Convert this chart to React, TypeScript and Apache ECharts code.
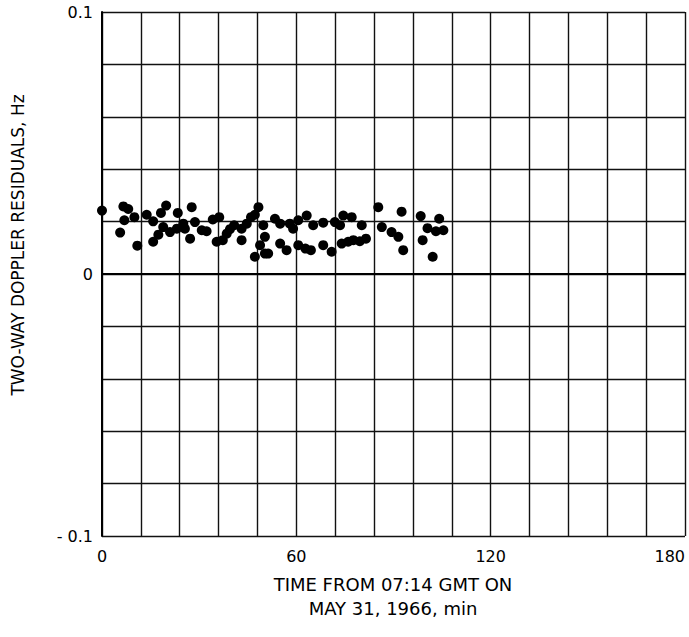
import React, { useEffect, useRef } from "react";
import * as echarts from "echarts";

const timeMin: number[] = [
  0, 5.6, 6.6, 6.9, 8.1, 10, 10.9, 13.8, 15.8, 15.8, 17.4, 18.2, 18.9, 19.8, 21,
  23.4, 23.1, 25.1, 25.6, 27.2, 27.7, 28.7, 30.8, 32.3, 34.2, 35.4, 36.2, 37.3,
  38.5, 39.5, 40.8, 43.1, 43.1, 44.7, 46, 47.2, 47.2, 48.3, 48.8, 49.8, 50.3,
  50.3, 51.3, 53.4, 55, 55, 57, 58, 59, 60.6, 60.6, 62.8, 63.2, 64.5, 65.2,
  68.3, 68.3, 70.9, 71.9, 73.5, 74, 74.5, 76, 77.1, 77.6, 79.6, 80.2, 81.5,
  85.3, 86.4, 89.4, 91.5, 92.5, 93, 98.4, 99, 100.5, 102.1, 103.1, 104.1, 105.4,
];
const residualHz: number[] = [
  0.0242, 0.0158, 0.0258, 0.0205, 0.0248, 0.0217, 0.0108, 0.0226, 0.0201, 0.0123,
  0.015, 0.0233, 0.0179, 0.0261, 0.016, 0.0233, 0.0173, 0.0192, 0.0173, 0.0135,
  0.0255, 0.0198, 0.0167, 0.0163, 0.0208, 0.0123, 0.0217, 0.0129, 0.0154, 0.0171,
  0.0186, 0.0129, 0.0173, 0.0192, 0.0217, 0.0226, 0.0066, 0.0255, 0.011, 0.0186,
  0.0078, 0.0142, 0.0078, 0.0211, 0.0192, 0.0116, 0.0091, 0.0192, 0.0173, 0.0205,
  0.011, 0.0097, 0.0223, 0.0091, 0.0186, 0.0196, 0.011, 0.0085, 0.0198, 0.0186,
  0.0116, 0.0223, 0.0123, 0.0217, 0.0129, 0.0125, 0.0186, 0.0135, 0.0255, 0.0179,
  0.016, 0.0142, 0.0238, 0.0091, 0.0221, 0.0129, 0.0175, 0.0066, 0.0163, 0.0211,
  0.0167,
];
const xTickLabels: number[] = [0, 60, 120, 180];
const yTickLabels: { v: number; t: string }[] = [
  { v: 0.1, t: "0.1" },
  { v: 0, t: "0" },
  { v: -0.1, t: "- 0.1" },
];
const xTitle = "TIME FROM 07:14 GMT ON\nMAY 31, 1966, min";
const yTitle = "TWO-WAY DOPPLER RESIDUALS, Hz";

export default function App() {
  const ref = useRef<HTMLDivElement>(null);
  useEffect(() => {
    if (!ref.current) return;
    const chart = echarts.init(ref.current, null, { renderer: "svg" });
    const font = "'DejaVu Sans', 'Liberation Sans', Arial, sans-serif";
    chart.setOption({
      animation: false,
      backgroundColor: "#ffffff",
      grid: { left: 102, top: 12, width: 583, height: 524, containLabel: false },
      xAxis: {
        type: "value",
        min: 0,
        max: 180,
        interval: 12,
        axisLine: { show: true, lineStyle: { color: "#000", width: 2 } },
        axisTick: { show: false },
        splitLine: { show: true, lineStyle: { color: "#111", width: 1.4 } },
        axisLabel: {
          color: "#000",
          fontFamily: font,
          fontSize: 16,
          margin: 12,
          alignMaxLabel: "right",
          formatter: (v: number) => {
            const r = Math.round(v);
            return xTickLabels.includes(r) ? String(r) : "";
          },
        },
      },
      yAxis: {
        type: "value",
        min: -0.1,
        max: 0.1,
        interval: 0.02,
        axisLine: { show: true, lineStyle: { color: "#000", width: 2 } },
        axisTick: { show: false },
        splitLine: { show: true, lineStyle: { color: "#111", width: 1.4 } },
        axisLabel: {
          color: "#000",
          fontFamily: font,
          fontSize: 16,
          margin: 9,
          formatter: (v: number) => {
            const f = yTickLabels.find((y) => Math.abs(y.v - v) < 1e-6);
            return f ? f.t : "";
          },
        },
      },
      series: [
        {
          type: "scatter",
          symbol: "circle",
          symbolSize: 10,
          itemStyle: { color: "#000", opacity: 1 },
          data: timeMin.map((t, i) => [t, residualHz[i]]),
        },
      ],
      graphic: [
        {
          type: "text",
          x: 393,
          y: 596,
          style: {
            text: xTitle,
            align: "center",
            verticalAlign: "middle",
            fontFamily: font,
            fontSize: 18,
            lineHeight: 24,
            fill: "#000",
          },
          z: 10,
        },
        {
          type: "text",
          x: 18,
          y: 245,
          rotation: Math.PI / 2,
          style: {
            text: yTitle,
            align: "center",
            verticalAlign: "middle",
            fontFamily: font,
            fontSize: 17,
            fill: "#000",
          },
          z: 10,
        },
      ],
    });
    return () => chart.dispose();
  }, []);
  return (
    <div
      ref={ref}
      style={{ position: "fixed", left: 0, top: 0, width: 689, height: 637 }}
    />
  );
}
